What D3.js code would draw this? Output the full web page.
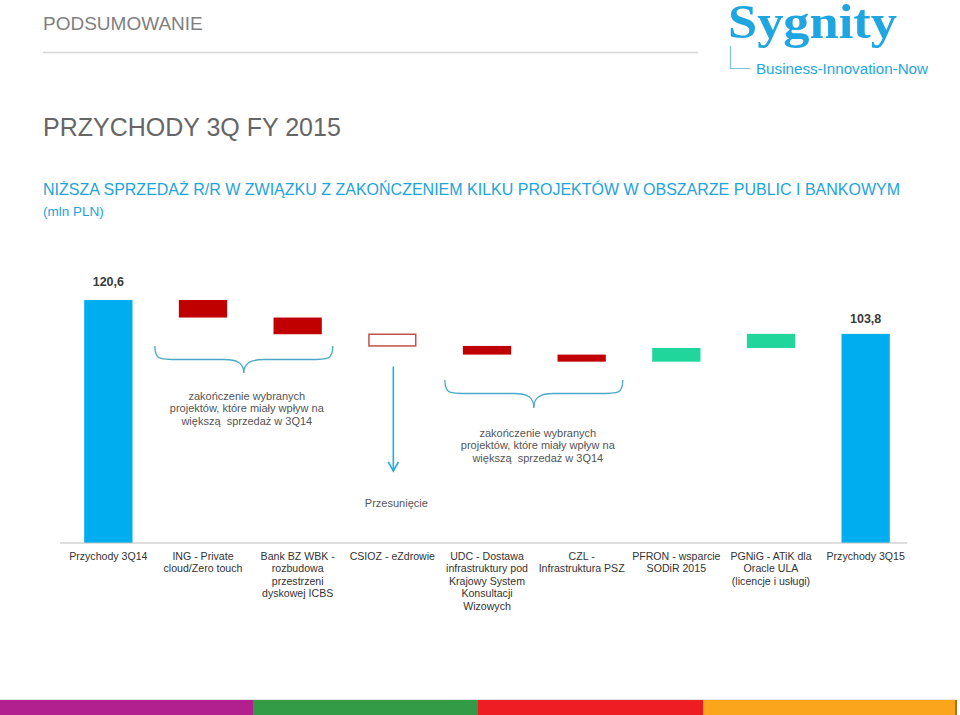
<!DOCTYPE html>
<html>
<head>
<meta charset="utf-8">
<script src="https://cdn.jsdelivr.net/npm/d3@7"></script>
<style>
  html, body { margin: 0; padding: 0; background: #fff; }
  svg { display: block; }
  text { font-family: "Liberation Sans", Arial, sans-serif; white-space: pre; }
</style>
</head>
<body>
<svg id="chart" width="960" height="715"></svg>
<script>
// ---------- data ----------
const categories = [
  "Przychody 3Q14", "ING - Private cloud/Zero touch", "Bank BZ WBK - rozbudowa przestrzeni dyskowej ICBS",
  "CSIOZ - eZdrowie", "UDC - Dostawa infrastruktury pod Krajowy System Konsultacji Wizowych",
  "CZL - Infrastruktura PSZ", "PFRON - wsparcie SODiR 2015", "PGNiG - ATiK dla Oracle ULA (licencje i usługi)",
  "Przychody 3Q15"
];
const categoryLines = [
  ["Przychody 3Q14"],
  ["ING - Private", "cloud/Zero touch"],
  ["Bank BZ WBK -", "rozbudowa", "przestrzeni", "dyskowej ICBS"],
  ["CSIOZ - eZdrowie"],
  ["UDC - Dostawa", "infrastruktury pod", "Krajowy System", "Konsultacji", "Wizowych"],
  ["CZL -", "Infrastruktura PSZ"],
  ["PFRON - wsparcie", "SODiR 2015"],
  ["PGNiG - ATiK dla", "Oracle ULA", "(licencje i usługi)"],
  ["Przychody 3Q15"]
];
const values = [120.6, -8.7, -8.3, -5.8, -4.3, -3.5, 6.8, 7.0, 103.8];
const kinds  = ["total", "decrease", "decrease", "shift", "decrease", "decrease", "increase", "increase", "total"];
const valueLabels = ["120,6", "", "", "", "", "", "", "", "103,8"];
const annotationText = ["zakończenie wybranych", "projektów, które miały wpływ na", "większą  sprzedaż w 3Q14"];
const shiftLabel = "Przesunięcie";
const stripColors = ["#b21f8f", "#339a46", "#ee1d24", "#fba51c"];

// ---------- layout ----------
const svg = d3.select("#chart");
const baseY = 543;
const x = d3.scaleBand().domain(categories).range([61, 913]).paddingInner(0.49).paddingOuter(0.245);
const y = d3.scaleLinear().domain([0, 120.6]).range([baseY, 300]);

const colors = { total: "#00aeef", decrease: "#c00000", increase: "#20d69b", shift: "#ffffff" };

// waterfall computation
let cum = 0;
const bars = values.map((v, i) => {
  let y0, y1;
  if (kinds[i] === "total") { y0 = 0; y1 = v; cum = v; }
  else { y0 = cum; y1 = cum + v; cum = y1; }
  return { cat: categories[i], kind: kinds[i], lo: Math.min(y0, y1), hi: Math.max(y0, y1), label: valueLabels[i], lines: categoryLines[i] };
});

// ---------- header ----------
svg.append("text").attr("x", 43).attr("y", 30).attr("font-size", 19).attr("fill", "#7f7f7f").text("PODSUMOWANIE");
svg.append("line").attr("x1", 43).attr("x2", 698).attr("y1", 52.5).attr("y2", 52.5).attr("stroke", "#d6d6d6").attr("stroke-width", 1.5);

// logo
const logoBlue = "#1fa6e0";
svg.append("text").attr("x", 728).attr("y", 38)
  .style("font-family", "'Liberation Serif', 'DejaVu Serif', serif")
  .attr("font-weight", "bold").attr("font-size", 48).attr("fill", logoBlue)
  .attr("textLength", 169).attr("lengthAdjust", "spacingAndGlyphs").text("Sygnity");
svg.append("path").attr("d", "M730.5,46V68.5H750").attr("fill", "none").attr("stroke", "#7cc0e6").attr("stroke-width", 1.2);
svg.append("text").attr("x", 756).attr("y", 74).attr("font-size", 15.5).attr("fill", logoBlue)
  .attr("textLength", 172).attr("lengthAdjust", "spacingAndGlyphs").text("Business-Innovation-Now");

// titles
svg.append("text").attr("x", 43).attr("y", 136).attr("font-size", 25).attr("fill", "#666666").text("PRZYCHODY 3Q FY 2015");
svg.append("text").attr("x", 43).attr("y", 194.5).attr("font-size", 16.5).attr("fill", "#1ea3db")
  .attr("textLength", 857).attr("lengthAdjust", "spacingAndGlyphs")
  .text("NIŻSZA SPRZEDAŻ R/R W ZWIĄZKU Z ZAKOŃCZENIEM KILKU PROJEKTÓW W OBSZARZE PUBLIC I BANKOWYM");
svg.append("text").attr("x", 43).attr("y", 215.5).attr("font-size", 13.5).attr("fill", "#1ea3db").text("(mln PLN)");

// ---------- bars ----------
const g = svg.append("g");
g.selectAll("rect.bar").data(bars).join("rect")
  .attr("class", "bar")
  .attr("x", d => x(d.cat) + (d.kind === "shift" ? 0.75 : 0))
  .attr("width", d => x.bandwidth() - (d.kind === "shift" ? 1.5 : 0))
  .attr("y", d => y(d.hi))
  .attr("height", d => y(d.lo) - y(d.hi))
  .attr("fill", d => colors[d.kind])
  .attr("stroke", d => d.kind === "shift" ? "#c0504d" : "none")
  .attr("stroke-width", 1.5);

// value labels
g.selectAll("text.val").data(bars.filter(d => d.label)).join("text")
  .attr("class", "val")
  .attr("x", d => x(d.cat) + x.bandwidth() / 2)
  .attr("y", (d, i) => y(d.hi) - (i === 0 ? 14 : 10.5))
  .attr("text-anchor", "middle").attr("font-size", 12.5).attr("font-weight", "bold").attr("fill", "#3a3a3a")
  .text(d => d.label);

// axis
const axis = svg.append("g").attr("transform", `translate(0,${baseY})`)
  .call(d3.axisBottom(x).tickSize(0).tickFormat(""));
axis.select(".domain").attr("d", "M60,0H907").attr("stroke", "#bfbfbf").attr("stroke-width", 1.2);

const labG = svg.append("g");
bars.forEach(d => {
  const t = labG.append("text").attr("text-anchor", "middle").attr("font-size", 10.6).attr("fill", "#333");
  d.lines.forEach((ln, j) => {
    t.append("tspan").attr("x", x(d.cat) + x.bandwidth() / 2).attr("y", 560 + j * 12.4).text(ln);
  });
});

// ---------- annotations ----------
const braceColor = "#4aa8c8";
function brace(x0, x1, y0, ym, yp) {
  const xm = (x0 + x1) / 2;
  return `M${x0},${y0} C${x0},${ym} ${x0 + 4},${ym} ${x0 + 24},${ym} L${xm - 20},${ym} C${xm - 6},${ym} ${xm},${ym + 4} ${xm},${yp} ` +
         `C${xm},${ym + 4} ${xm + 6},${ym} ${xm + 20},${ym} L${x1 - 24},${ym} C${x1 - 4},${ym} ${x1},${ym} ${x1},${y0}`;
}
const c1 = categories[1], c2 = categories[2], c4 = categories[4], c5 = categories[5], c3 = categories[3];
svg.append("path").attr("d", brace(x(c1) - 24, x(c2) + x.bandwidth() + 11, 346, 359.5, 373))
  .attr("fill", "none").attr("stroke", braceColor).attr("stroke-width", 1.3);
svg.append("path").attr("d", brace(x(c4) - 18, x(c5) + x.bandwidth() + 17, 380, 393.5, 408))
  .attr("fill", "none").attr("stroke", braceColor).attr("stroke-width", 1.3);

function block(cx, y0) {
  const t = svg.append("text").attr("text-anchor", "middle").attr("font-size", 11).attr("fill", "#555");
  annotationText.forEach((ln, j) => t.append("tspan").attr("x", cx).attr("y", y0 + j * 12.9).text(ln));
}
block((x(c1) - 24 + x(c2) + x.bandwidth() + 11) / 2 + 3, 399.5);
block((x(c4) - 18 + x(c5) + x.bandwidth() + 17) / 2 + 4, 436.5);

// arrow for shift
const ax = x(c3) + x.bandwidth() / 2 + 1;
svg.append("line").attr("x1", ax).attr("x2", ax).attr("y1", 366.5).attr("y2", 471)
  .attr("stroke", "#29a9e0").attr("stroke-width", 1.6);
svg.append("path").attr("d", `M${ax - 5},${462} L${ax},${471} L${ax + 5},${462}`)
  .attr("fill", "none").attr("stroke", "#29a9e0").attr("stroke-width", 1.6);
svg.append("text").attr("x", ax + 3).attr("y", 507).attr("text-anchor", "middle").attr("font-size", 11).attr("fill", "#555").text(shiftLabel);

// ---------- bottom strip ----------
const stripStops = [0, 253, 478, 703, 955];
svg.append("line").attr("x1", 0).attr("x2", 957).attr("y1", 699.5).attr("y2", 699.5).attr("stroke", "#e6e6e6");
svg.selectAll("rect.strip").data(stripColors).join("rect")
  .attr("x", (d, i) => stripStops[i]).attr("width", (d, i) => stripStops[i + 1] - stripStops[i] + 0.5)
  .attr("y", 700).attr("height", 15).attr("fill", d => d);
svg.append("rect").attr("x", 955).attr("y", 700).attr("width", 2).attr("height", 15).attr("fill", "#b07020");
</script>
</body>
</html>
